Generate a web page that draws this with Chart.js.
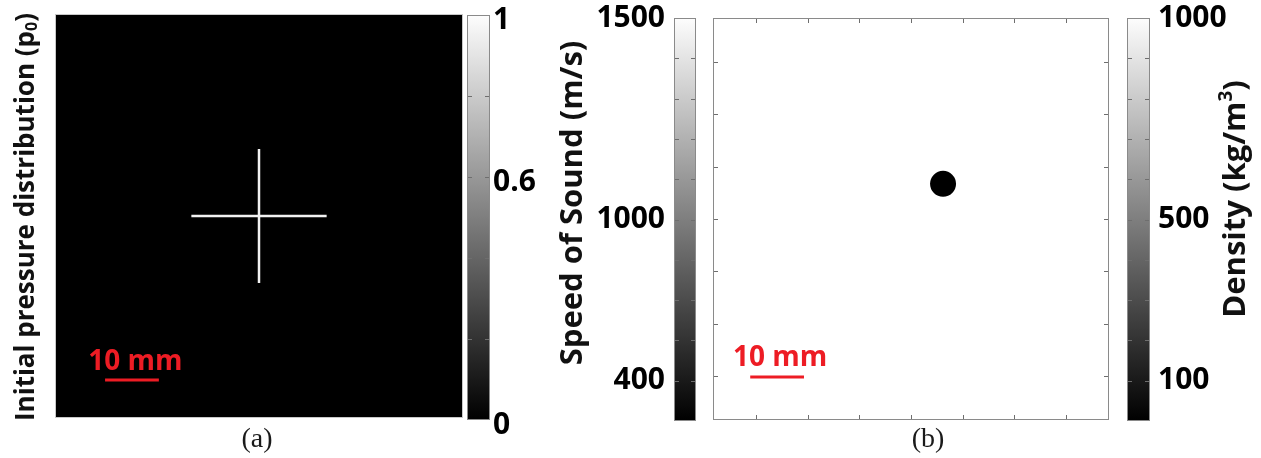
<!DOCTYPE html>
<html>
<head>
<meta charset="utf-8">
<script src="https://cdn.jsdelivr.net/npm/chart.js@4.4.1/dist/chart.umd.min.js"></script>
<style>
  html, body { margin: 0; padding: 0; background: #ffffff; overflow: hidden; }
  #wrap { position: relative; width: 1261px; height: 458px; }
  #wrap canvas { position: absolute; left: 0; top: 0; }
</style>
</head>
<body>
<div id="wrap">
  <canvas id="panelA" width="1261" height="458"></canvas>
  <canvas id="barA" width="1261" height="458"></canvas>
  <canvas id="barSound" width="1261" height="458"></canvas>
  <canvas id="panelB" width="1261" height="458"></canvas>
  <canvas id="barDensity" width="1261" height="458"></canvas>
</div>
<script>
// ---------------- data (mm for the image panels) ----------------
const fieldRange = [-38.3, 38.3];
const fieldTicks = [-30, -20, -10, 0, 10, 20, 30];

// panel (a): cross-shaped initial pressure source
const crossHorizontalX = [-12.7, 12.7];
const crossHorizontalY = [0, 0];
const crossVerticalX = [0, 0];
const crossVerticalY = [-12.7, 12.7];
const scaleBarAX = [-28.9, -18.8];
const scaleBarAY = [-31.1, -31.1];

// panel (b): circular inclusion in a homogeneous medium
const inclusionX = [6.2];
const inclusionY = [6.7];
const scaleBarBX = [-31.1, -20.7];
const scaleBarBY = [-30.1, -30.1];

// colour bars
const pressureRange = [0, 1];
const pressureTicks = [0, 0.2, 0.4, 0.6, 0.8, 1];
const pressureLabelValues = [0, 0.6, 1];
const pressureLabelTexts = ['0', '0.6', '1'];

const soundRange = [500, 1500];
const soundTicks = [500, 600, 700, 800, 900, 1000, 1100, 1200, 1300, 1400, 1500];
const soundLabelValues = [600, 1000, 1500];
const soundLabelTexts = ['400', '1000', '1500'];

const densityRange = [0, 1000];
const densityTicks = [0, 100, 200, 300, 400, 500, 600, 700, 800, 900, 1000];
const densityLabelValues = [100, 500, 1000];
const densityLabelTexts = ['100', '500', '1000'];

// ---------------- styling / layout ----------------
const W = 1261, H = 458;
const SANS = '"Open Sans", "DejaVu Sans", sans-serif';
const SERIF = '"Liberation Serif", "DejaVu Serif", serif';
const RED = '#ed1c24';
const AXIS_W = 100;

const pts = (xs, ys) => xs.map((x, i) => ({ x: x, y: ys[i] }));

function framePlugin(cfg) {
  return {
    id: 'frame',
    beforeDatasetsDraw(chart) {
      if (!cfg.bg) return;
      const { ctx, chartArea: a } = chart;
      ctx.save();
      ctx.fillStyle = cfg.bg;
      ctx.fillRect(a.left, a.top, a.right - a.left, a.bottom - a.top);
      ctx.restore();
    },
    afterDatasetsDraw(chart) {
      const { ctx, chartArea: a } = chart;
      ctx.save();
      ctx.lineWidth = 1;
      ctx.strokeStyle = cfg.tickColor || '#666';
      ctx.beginPath();
      const L = cfg.tickLen || 5;
      if (cfg.xTicks) {
        const sx = chart.scales.x;
        cfg.xTicks.forEach(v => {
          const p = Math.round(sx.getPixelForValue(v)) + 0.5;
          ctx.moveTo(p, a.top); ctx.lineTo(p, a.top + L);
          ctx.moveTo(p, a.bottom); ctx.lineTo(p, a.bottom - L);
        });
      }
      if (cfg.yTicks) {
        const sy = chart.scales.y;
        cfg.yTicks.forEach(v => {
          const p = Math.round(sy.getPixelForValue(v)) + 0.5;
          ctx.moveTo(a.left, p); ctx.lineTo(a.left + L, p);
          ctx.moveTo(a.right, p); ctx.lineTo(a.right - L, p);
        });
      }
      ctx.stroke();
      if (cfg.border) {
        ctx.strokeStyle = cfg.border;
        ctx.strokeRect(Math.round(a.left) + 0.5, Math.round(a.top) + 0.5,
                       Math.round(a.right - a.left) - 1, Math.round(a.bottom - a.top) - 1);
      }
      ctx.restore();
    }
  };
}

function textPlugin(items) {
  return {
    id: 'texts',
    afterDraw(chart) {
      const ctx = chart.ctx;
      items.forEach(it => {
        let x = it.x, y = it.y;
        if (it.at) {
          x = chart.scales.x.getPixelForValue(it.at[0]);
          y = chart.scales.y.getPixelForValue(it.at[1]);
        }
        const segs = it.segments || [{ t: it.text }];
        const fontFor = s => (it.weight || 'normal') + ' ' +
          ((s.sub || s.sup) ? Math.round(it.size * 0.62) : it.size) + 'px ' + it.family;
        ctx.save();
        ctx.translate(x, y);
        ctx.rotate((it.rotation || 0) * Math.PI / 180);
        ctx.fillStyle = it.color;
        ctx.textBaseline = 'middle';
        ctx.textAlign = 'left';
        const widths = segs.map(s => { ctx.font = fontFor(s); return ctx.measureText(s.t).width; });
        let cx = -widths.reduce((p, q) => p + q, 0) / 2;
        segs.forEach((s, i) => {
          ctx.font = fontFor(s);
          const dy = s.sub ? it.size * 0.22 : (s.sup ? -it.size * 0.3 : 0);
          ctx.fillText(s.t, cx, dy);
          cx += widths[i];
        });
        ctx.restore();
      });
    }
  };
}

function grayGradient(c) {
  const a = c.chart.chartArea;
  if (!a) return '#808080';
  const g = c.chart.ctx.createLinearGradient(0, a.bottom, 0, a.top);
  g.addColorStop(0, '#000000');
  g.addColorStop(1, '#fdfdfd');
  return g;
}

const baseOptions = (padding) => ({
  responsive: false,
  animation: false,
  events: [],
  layout: { padding: padding },
  plugins: { legend: { display: false }, tooltip: { enabled: false } }
});

function colorbar(id, range, ticks, labelValues, labelTexts, side, area, pad, labelOffset, extra) {
  const padding = side === 'right'
    ? { left: area.l, right: W - area.r - AXIS_W, top: area.t, bottom: H - area.b }
    : { left: area.l - AXIS_W, right: W - area.r, top: area.t, bottom: H - area.b };
  const opts = baseOptions(padding);
  opts.scales = {
    x: { display: false },
    y: {
      position: side, min: range[0], max: range[1],
      afterBuildTicks: s => { s.ticks = ticks.map(v => ({ value: v })); },
      afterFit: s => { s.width = AXIS_W; s.paddingTop = 0; s.paddingBottom = 0; },
      grid: { display: false, drawTicks: false, tickLength: 0 },
      border: { display: false },
      ticks: {
        autoSkip: false, padding: pad, labelOffset: labelOffset, color: '#000000',
        font: { family: SANS, weight: 'bold', size: 30 },
        callback: v => {
          const i = labelValues.findIndex(u => Math.abs(u - v) < 1e-9);
          return i < 0 ? '' : labelTexts[i];
        }
      }
    }
  };
  const plugins = [framePlugin({ border: '#8a8a8a', tickColor: '#6e6e6e', tickLen: 5, yTicks: ticks.slice(1, -1) })];
  if (extra) plugins.push(textPlugin(extra));
  return new Chart(document.getElementById(id), {
    type: 'bar',
    data: {
      labels: [''],
      datasets: [{
        data: [[range[0], range[1]]],
        backgroundColor: grayGradient, borderWidth: 0,
        barPercentage: 1, categoryPercentage: 1
      }]
    },
    options: opts,
    plugins: plugins
  });
}

const charts = [];

// ---- panel (a) ----
{
  const opts = baseOptions({ left: 55, top: 14, right: W - 463, bottom: H - 418 });
  opts.scales = {
    x: { type: 'linear', display: false, min: fieldRange[0], max: fieldRange[1] },
    y: { type: 'linear', display: false, min: fieldRange[0], max: fieldRange[1] }
  };
  charts.push(new Chart(document.getElementById('panelA'), {
    type: 'scatter',
    data: {
      datasets: [
        { data: pts(crossHorizontalX, crossHorizontalY), showLine: true, borderColor: '#f2f2f2', borderWidth: 2.5, pointRadius: 0 },
        { data: pts(crossVerticalX, crossVerticalY), showLine: true, borderColor: '#f2f2f2', borderWidth: 2.5, pointRadius: 0 },
        { data: pts(scaleBarAX, scaleBarAY), showLine: true, borderColor: RED, borderWidth: 3, pointRadius: 0 }
      ]
    },
    options: opts,
    plugins: [
      framePlugin({ bg: '#000000', border: '#c8c8c8' }),
      textPlugin([
        { text: '10 mm', at: [-23.2, -27.7], size: 28, weight: 'bold', family: SANS, color: RED },
        { x: 27, y: 217, rotation: -90, size: 26, weight: 'bold', family: SANS, color: '#111111',
          segments: [{ t: 'Initial pressure distribution (p' }, { t: '0', sub: true }, { t: ')' }] },
        { text: '(a)', x: 257, y: 440, size: 28, family: SERIF, color: '#1a1a1a' }
      ])
    ]
  }));
}

// ---- colour bar (a) ----
charts.push(colorbar('barA', pressureRange, pressureTicks, pressureLabelValues, pressureLabelTexts,
  'right', { l: 467, t: 15, r: 490, b: 420 }, 3, 5));

// ---- speed of sound colour bar ----
charts.push(colorbar('barSound', soundRange, soundTicks, soundLabelValues, soundLabelTexts,
  'left', { l: 674, t: 18, r: 696, b: 421 }, 9, 0,
  [{ text: 'Speed of Sound (m/s)', x: 573, y: 203, rotation: -90, size: 31, weight: 'bold', family: SANS, color: '#111111' }]));

// ---- panel (b) ----
{
  const opts = baseOptions({ left: 713, top: 18, right: W - 1109, bottom: H - 420 });
  opts.scales = {
    x: { type: 'linear', display: false, min: fieldRange[0], max: fieldRange[1] },
    y: { type: 'linear', display: false, min: fieldRange[0], max: fieldRange[1] }
  };
  charts.push(new Chart(document.getElementById('panelB'), {
    type: 'scatter',
    data: {
      datasets: [
        { data: pts(inclusionX, inclusionY), pointRadius: 13, backgroundColor: '#000000', borderWidth: 0 },
        { data: pts(scaleBarBX, scaleBarBY), showLine: true, borderColor: RED, borderWidth: 3, pointRadius: 0 }
      ]
    },
    options: opts,
    plugins: [
      framePlugin({ border: '#8a8a8a', tickColor: '#6e6e6e', tickLen: 5, xTicks: fieldTicks, yTicks: fieldTicks }),
      textPlugin([
        { text: '10 mm', at: [-25.3, -26.5], size: 28, weight: 'bold', family: SANS, color: RED },
        { text: '(b)', x: 928, y: 440, size: 28, family: SERIF, color: '#1a1a1a' }
      ])
    ]
  }));
}

// ---- density colour bar ----
charts.push(colorbar('barDensity', densityRange, densityTicks, densityLabelValues, densityLabelTexts,
  'right', { l: 1127, t: 18, r: 1150, b: 421 }, 8, 0,
  [{ x: 1236, y: 199, rotation: -90, size: 31, weight: 'bold', family: SANS, color: '#111111',
     segments: [{ t: 'Density (kg/m' }, { t: '3', sup: true }, { t: ')' }] }]));

if (document.fonts && document.fonts.load) {
  Promise.all([
    document.fonts.load('bold 30px "Open Sans"'),
    document.fonts.load('28px "Liberation Serif"')
  ]).then(() => charts.forEach(c => c.update('none'))).catch(() => {});
}
</script>
</body>
</html>
